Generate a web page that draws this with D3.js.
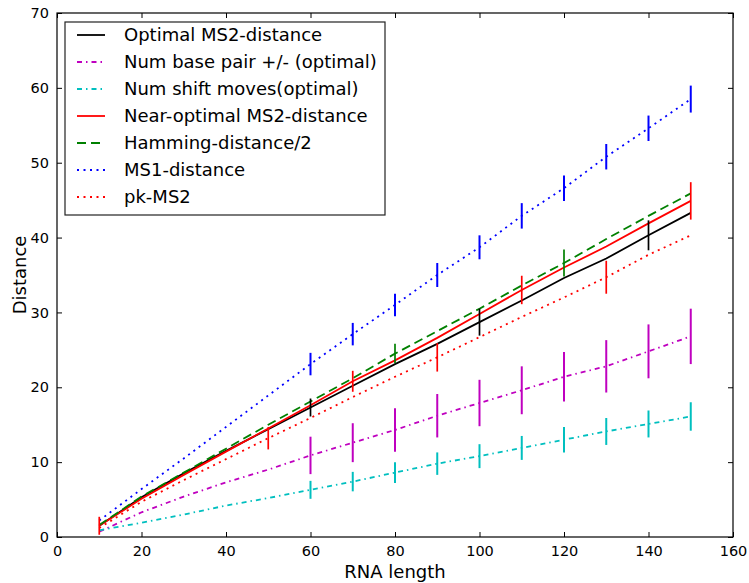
<!DOCTYPE html>
<html>
<head>
<meta charset="utf-8">
<script src="https://cdn.jsdelivr.net/npm/d3@7"></script>
<style>
  body { margin: 0; background: #fff; }
  svg { font-family: "DejaVu Sans", sans-serif; }
</style>
</head>
<body>
<div id="chart"></div>
<script>
// RNA length vs distance, one array per series
var lengths = [10, 20, 30, 40, 50, 60, 70, 80, 90, 100, 110, 120, 130, 140, 150];

var optimal     = [1.5, 5.3, 8.5, 11.5, 14.4, 17.3, 20.2, 23.1, 25.8, 28.7, 31.6, 34.6, 37.2, 40.3, 43.3];
var optimalErr  = [null, null, null, null, null, 1.2, null, null, null, 1.8, null, null, null, 2.0, null];
var basePair    = [0.7, 3.3, 5.4, 7.3, 9.0, 10.9, 12.6, 14.3, 16.2, 17.9, 19.6, 21.4, 22.8, 24.8, 26.8];
var basePairErr = [null, null, null, null, null, 2.5, 2.6, 2.9, 2.9, 3.1, 3.2, 3.3, 3.5, 3.6, 3.7];
var shift       = [0.9, 1.9, 3.0, 4.2, 5.2, 6.3, 7.4, 8.6, 9.8, 10.8, 11.9, 13.0, 14.1, 15.1, 16.1];
var shiftErr    = [null, null, null, null, null, 1.2, 1.3, 1.4, 1.5, 1.6, 1.6, 1.7, 1.8, 1.8, 1.9];
var nearOpt     = [1.5, 5.1, 8.3, 11.4, 14.5, 17.6, 20.8, 23.6, 26.6, 29.8, 33.0, 36.0, 38.8, 41.9, 44.9];
var nearOptErr  = [1.2, null, null, null, null, null, 1.4, null, null, null, 1.9, null, null, null, 2.5];
var hamming     = [1.6, 5.4, 8.6, 11.8, 15.0, 18.1, 21.2, 24.5, 27.5, 30.5, 33.6, 36.6, 39.8, 42.9, 45.9];
var hammingErr  = [null, null, null, null, null, null, null, 1.3, null, null, null, 1.8, null, null, null];
var ms1         = [2.2, 6.4, 10.5, 14.7, 18.9, 23.1, 27.1, 31.0, 35.0, 38.7, 42.9, 46.6, 50.8, 54.6, 58.5];
var ms1Err      = [null, null, null, null, null, 1.5, 1.5, 1.5, 1.6, 1.6, 1.7, 1.7, 1.7, 1.7, 1.8];
var pkMs2       = [1.2, 4.7, 7.6, 10.4, 13.2, 15.9, 18.7, 21.4, 24.0, 26.7, 29.4, 32.0, 34.7, 37.7, 40.3];
var pkMs2Err    = [null, null, null, null, 1.5, null, null, null, 1.9, null, null, null, 2.2, null, null];

var xTicks = [0, 20, 40, 60, 80, 100, 120, 140, 160];
var yTicks = [0, 10, 20, 30, 40, 50, 60, 70];

var series = [
	{label: 'Optimal MS2-distance', values: optimal, err: optimalErr, color: '#000000', dash: null, ew: 1.7},
	{label: 'Num base pair +/- (optimal)', values: basePair, err: basePairErr, color: '#bf00bf', dash: '5,4,1.5,4', ew: 2},
	{label: 'Num shift moves(optimal)', values: shift, err: shiftErr, color: '#00bfbf', dash: '5,4,1.5,4', ew: 2},
	{label: 'Near-optimal MS2-distance', values: nearOpt, err: nearOptErr, color: '#ff0000', dash: null, ew: 1.7},
	{label: 'Hamming-distance/2', values: hamming, err: hammingErr, color: '#008000', dash: '9,5', ew: 1.7},
	{label: 'MS1-distance', values: ms1, err: ms1Err, color: '#0000ff', dash: '2,4.5', ew: 2},
	{label: 'pk-MS2', values: pkMs2, err: pkMs2Err, color: '#ff0000', dash: '2,4.5', ew: 1.7}
];

var width = 749, height = 583;
var margin = {left: 57, right: 16, top: 13, bottom: 46};
var plotW = width - margin.left - margin.right;
var plotH = height - margin.top - margin.bottom;

var svg = d3.select('#chart').append('svg')
	.attr('width', width)
	.attr('height', height);

var x = d3.scaleLinear().domain([0, 160]).range([0, plotW]);
var y = d3.scaleLinear().domain([0, 70]).range([plotH, 0]);

var g = svg.append('g').attr('transform', 'translate(' + margin.left + ',' + margin.top + ')');

// series lines
var line = d3.line()
	.x(function(d, i) { return x(lengths[i]); })
	.y(function(d) { return y(d); });

series.forEach(function(s) {
	g.append('path')
		.datum(s.values)
		.attr('fill', 'none')
		.attr('stroke', s.color)
		.attr('stroke-width', 1.8)
		.attr('stroke-dasharray', s.dash)
		.attr('d', line);
});

// error bars
series.forEach(function(s) {
	var pts = lengths.map(function(l, i) { return {x: l, v: s.values[i], e: s.err[i]}; })
		.filter(function(p) { return p.e != null; });
	g.selectAll(null)
		.data(pts)
		.enter().append('line')
			.attr('x1', function(d) { return x(d.x); })
			.attr('x2', function(d) { return x(d.x); })
			.attr('y1', function(d) { return y(d.v - d.e); })
			.attr('y2', function(d) { return y(d.v + d.e); })
			.attr('stroke', s.color)
			.attr('stroke-width', s.ew);
});

// axes, ticks pointing inwards on all four sides
var axBottom = g.append('g').attr('transform', 'translate(0,' + plotH + ')')
	.call(d3.axisBottom(x).tickValues(xTicks).tickSize(-5).tickPadding(9));
var axLeft = g.append('g')
	.call(d3.axisLeft(y).tickValues(yTicks).tickSize(-5).tickPadding(8));
var axTop = g.append('g')
	.call(d3.axisTop(x).tickValues(xTicks).tickSize(-5).tickFormat(''));
var axRight = g.append('g').attr('transform', 'translate(' + plotW + ',0)')
	.call(d3.axisRight(y).tickValues(yTicks).tickSize(-5).tickFormat(''));

[axBottom, axLeft, axTop, axRight].forEach(function(a) {
	a.select('.domain').remove();
	a.selectAll('.tick line').attr('stroke', '#000').attr('stroke-width', 1);
	a.selectAll('.tick text')
		.attr('fill', '#000')
		.style('font-size', '14.5px')
		.style('font-family', '"DejaVu Sans", sans-serif');
});

g.append('rect')
	.attr('width', plotW)
	.attr('height', plotH)
	.attr('fill', 'none')
	.attr('stroke', '#000')
	.attr('stroke-width', 1.2);

// axis labels
svg.append('text')
	.attr('x', margin.left + plotW / 2)
	.attr('y', 578)
	.attr('text-anchor', 'middle')
	.style('font-size', '18px')
	.text('RNA length');

svg.append('text')
	.attr('transform', 'translate(26,' + (margin.top + plotH / 2) + ') rotate(-90)')
	.attr('text-anchor', 'middle')
	.style('font-size', '18px')
	.text('Distance');

// legend
var legend = svg.append('g').attr('transform', 'translate(65,22)');
legend.append('rect')
	.attr('width', 320)
	.attr('height', 193)
	.attr('fill', '#fff')
	.attr('stroke', '#222')
	.attr('stroke-width', 1.2);

var rowH = 27;
series.forEach(function(s, i) {
	var ly = 13 + i * rowH;
	legend.append('line')
		.attr('x1', 12).attr('x2', 40)
		.attr('y1', ly).attr('y2', ly)
		.attr('stroke', s.color)
		.attr('stroke-width', 1.8)
		.attr('stroke-dasharray', s.dash);
	legend.append('text')
		.attr('x', 59)
		.attr('y', ly)
		.attr('dy', '0.35em')
		.style('font-size', '18px')
		.text(s.label);
});
</script>
</body>
</html>
